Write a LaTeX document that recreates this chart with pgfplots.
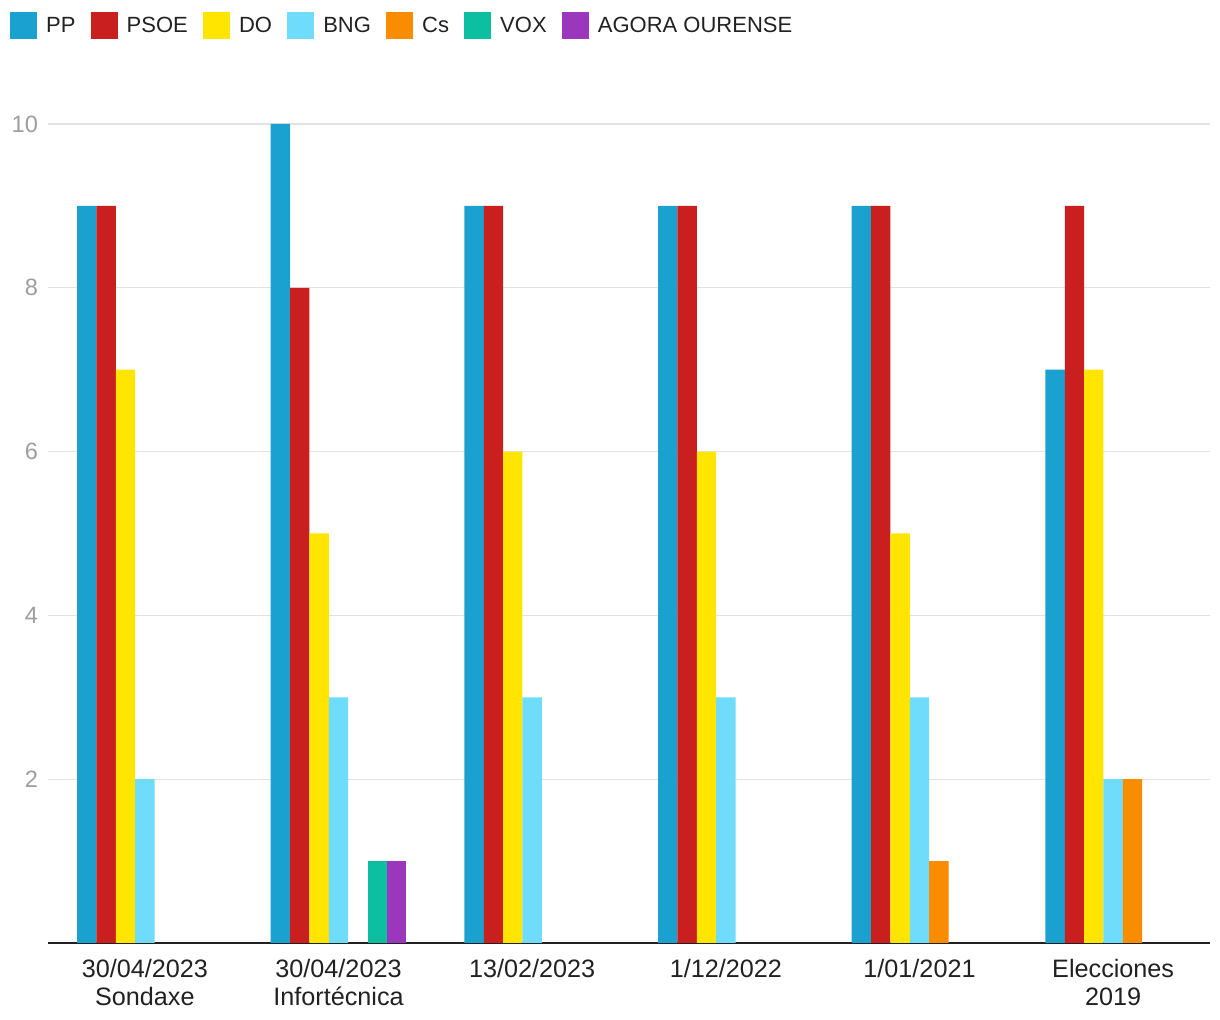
\documentclass[border=0pt]{standalone}
\usepackage{pgfplots}
\pgfplotsset{compat=1.18}
\usepackage{fontspec}
\setmainfont{Liberation Sans}
\definecolor{cPP}{HTML}{1AA1CF}
\definecolor{cPSOE}{HTML}{C91F1F}
\definecolor{cDO}{HTML}{FFE500}
\definecolor{cBNG}{HTML}{6FDCFC}
\definecolor{cCs}{HTML}{FA8C00}
\definecolor{cVOX}{HTML}{0CBFA0}
\definecolor{cAG}{HTML}{9A37BC}
\definecolor{textdark}{HTML}{212121}
\definecolor{ticgray}{HTML}{9E9E9E}
\definecolor{gridgray}{HTML}{E2E2E2}
\begin{document}
\begin{tikzpicture}
\path[use as bounding box] (-24pt,-38.5pt) rectangle (586pt,471.5pt);
\begin{axis}[
  at={(0,0)}, anchor=south west,
  scale only axis, width=581pt, height=409.5pt,
  xmin=-0.5, xmax=5.5, ymin=0, ymax=10,
  ybar=0pt, bar width=9.683pt,
  xtick={0,1,2,3,4,5},
  xticklabels={{30/04/2023\\Sondaxe},{30/04/2023\\Infortécnica},{13/02/2023},{1/12/2022},{1/01/2021},{Elecciones\\2019}},
  xticklabel style={align=center, font=\fontsize{12.6}{14}\selectfont, text=textdark, yshift=-4.5pt},
  ytick={2,4,6,8,10},
  yticklabel style={font=\fontsize{11.8}{14}\selectfont, text=ticgray, xshift=-1.5pt},
  /pgf/number format/assume math mode=true,
  ymajorgrids, grid style={draw=gridgray, line width=0.6pt},
  axis x line*=bottom, axis y line*=left,
  y axis line style={draw=none},
  x axis line style={draw=textdark, line width=1pt, -},
  major tick length=0pt,
  legend columns=-1,
  legend image code/.code={\fill[#1] (0pt,-6.75pt) rectangle (13.5pt,6.75pt);},
  legend style={draw=none, fill=none, inner sep=0pt, outer sep=0pt,
    at={(axis description cs:0,1)}, anchor=west, xshift=-19pt, yshift=49pt,
    font=\fontsize{11}{13}\selectfont, text=textdark,
    /tikz/every odd column/.append style={column sep=2.6pt},
    /tikz/every even column/.append style={column sep=5.5pt}},
]
\addplot[fill=cPP, draw=none] coordinates {(0,9)(1,10)(2,9)(3,9)(4,9)(5,7)};
\addplot[fill=cPSOE, draw=none] coordinates {(0,9)(1,8)(2,9)(3,9)(4,9)(5,9)};
\addplot[fill=cDO, draw=none] coordinates {(0,7)(1,5)(2,6)(3,6)(4,5)(5,7)};
\addplot[fill=cBNG, draw=none] coordinates {(0,2)(1,3)(2,3)(3,3)(4,3)(5,2)};
\addplot[fill=cCs, draw=none] coordinates {(4,1)(5,2)};
\addplot[fill=cVOX, draw=none] coordinates {(1,1)};
\addplot[fill=cAG, draw=none] coordinates {(1,1)};
\legend{PP,PSOE,DO,BNG,Cs,VOX,AGORA OURENSE}
\end{axis}
\end{tikzpicture}
\end{document}
